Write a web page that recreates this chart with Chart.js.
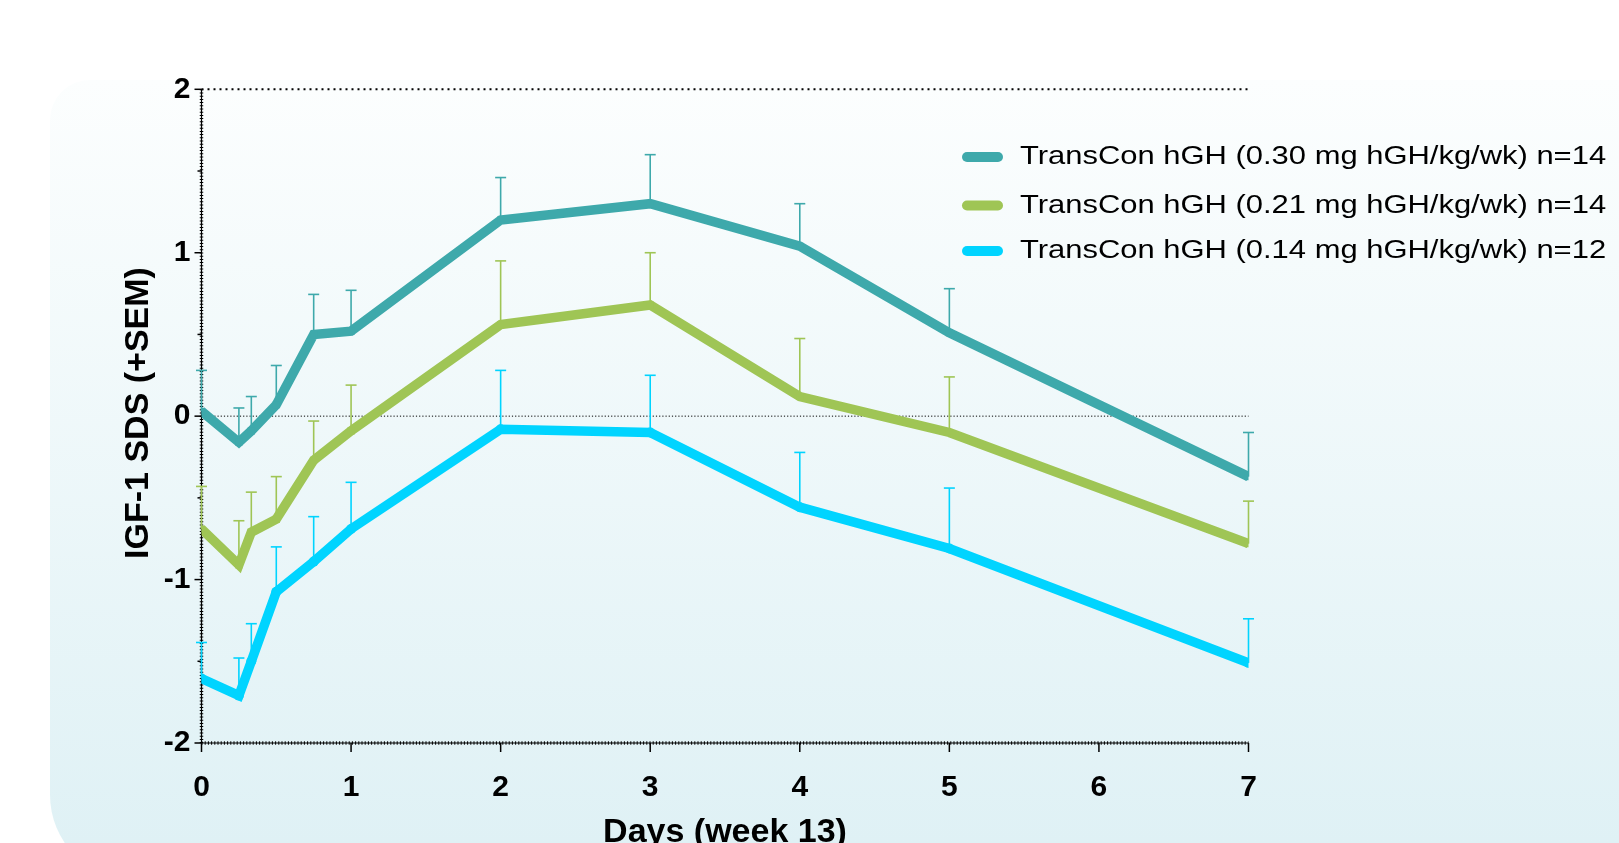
<!DOCTYPE html>
<html><head><meta charset="utf-8">
<script src="https://cdn.jsdelivr.net/npm/chart.js@4.4.1/dist/chart.umd.min.js"></script>
<style>html,body{margin:0;padding:0;background:#fff;overflow:hidden}canvas{display:block}</style>
</head><body><canvas id="c" width="1619" height="843"></canvas>
<script>
// ---- data ----
const days = [0, 0.25, 0.333, 0.5, 0.75, 1, 2, 3, 4, 5, 7];
const seriesLabels = [
  'TransCon hGH (0.30 mg hGH/kg/wk) n=14',
  'TransCon hGH (0.21 mg hGH/kg/wk) n=14',
  'TransCon hGH (0.14 mg hGH/kg/wk) n=12'
];
const mean030 = [0.03, -0.16, -0.09, 0.07, 0.50, 0.52, 1.20, 1.30, 1.04, 0.51, -0.37];
const sem030  = [0.25, 0.21, 0.21, 0.24, 0.245, 0.25, 0.26, 0.30, 0.26, 0.27, 0.27];
const mean021 = [-0.69, -0.91, -0.71, -0.63, -0.27, -0.09, 0.56, 0.68, 0.12, -0.10, -0.78];
const sem021  = [0.26, 0.27, 0.245, 0.26, 0.24, 0.28, 0.39, 0.32, 0.355, 0.34, 0.26];
const mean014 = [-1.605, -1.71, -1.50, -1.075, -0.89, -0.69, -0.08, -0.10, -0.557, -0.81, -1.51];
const sem014  = [0.22, 0.23, 0.23, 0.275, 0.275, 0.285, 0.36, 0.35, 0.335, 0.37, 0.27];
const xTicks = [0, 1, 2, 3, 4, 5, 6, 7];
const yTicks = [-2, -1, 0, 1, 2];
const yMinorTicks = [-1.5, -0.5, 0.5, 1.5];
const xTitle = 'Days (week 13)';
const yTitle = 'IGF-1 SDS (+SEM)';

// ---- styles ----
const FONT = '"Liberation Sans", Arial, Helvetica, sans-serif';
const colors = ['#3EA9AB', '#9FC555', '#00D4FF'];
const means = [mean030, mean021, mean014];
const sems = [sem030, sem021, sem014];
const pointStyles = ['rect', 'rect', 'circle'];

const datasets = means.map((m, i) => ({
  label: seriesLabels[i],
  data: days.map((d, j) => ({x: d, y: m[j]})),
  sem: sems[i],
  borderColor: colors[i],
  backgroundColor: colors[i],
  borderWidth: 9.5,
  pointRadius: 5,
  pointStyle: pointStyles[i],
  pointBorderWidth: 0,
  tension: 0,
  borderJoinStyle: 'miter',
  borderCapStyle: 'butt',
  order: i
}));

const bgPlugin = {
  id: 'bg',
  beforeDraw(chart) {
    const ctx = chart.ctx;
    ctx.save();
    ctx.fillStyle = '#ffffff';
    ctx.fillRect(0, 0, chart.width, chart.height);
    const x0 = 50, y0 = 80, x1 = chart.width + 100, y1 = 880;
    const g = ctx.createLinearGradient(0, y0, 0, 843);
    g.addColorStop(0, '#fcfefe');
    g.addColorStop(1, '#dff1f5');
    ctx.fillStyle = g;
    ctx.beginPath();
    ctx.roundRect(x0, y0, x1 - x0, y1 - y0, [40, 0, 0, 85]);
    ctx.fill();
    ctx.restore();
  }
};

const axesPlugin = {
  id: 'axesDeco',
  beforeDatasetsDraw(chart) {
    const ctx = chart.ctx;
    const xs = chart.scales.x, ys = chart.scales.y;
    const L = xs.getPixelForValue(0), R = xs.getPixelForValue(7);
    const T = ys.getPixelForValue(2), B = ys.getPixelForValue(-2);
    ctx.save();
    ctx.strokeStyle = '#000';
    // top dotted line (y=2)
    ctx.setLineDash([2, 4]);
    ctx.lineWidth = 2;
    ctx.beginPath(); ctx.moveTo(L, T); ctx.lineTo(R, T); ctx.stroke();
    // zero dotted line
    const Z = ys.getPixelForValue(0);
    ctx.setLineDash([1.2, 2]);
    ctx.lineWidth = 1;
    ctx.beginPath(); ctx.moveTo(L, Z); ctx.lineTo(R, Z); ctx.stroke();
    // axis lines (beaded look)
    ctx.setLineDash([]);
    ctx.lineWidth = 1.2;
    ctx.beginPath(); ctx.moveTo(L, T); ctx.lineTo(L, B); ctx.lineTo(R, B); ctx.stroke();
    ctx.setLineDash([1, 2.2]);
    ctx.lineWidth = 3.5;
    ctx.beginPath(); ctx.moveTo(L, T); ctx.lineTo(L, B); ctx.stroke();
    ctx.beginPath(); ctx.moveTo(L, B); ctx.lineTo(R, B); ctx.stroke();
    ctx.setLineDash([]);
    // tick marks
    ctx.lineWidth = 1.5;
    yTicks.forEach(v => {
      const y = ys.getPixelForValue(v);
      ctx.beginPath(); ctx.moveTo(L - 7, y); ctx.lineTo(L, y); ctx.stroke();
    });
    yMinorTicks.forEach(v => {
      const y = ys.getPixelForValue(v);
      ctx.beginPath(); ctx.moveTo(L - 4, y); ctx.lineTo(L, y); ctx.stroke();
    });
    xTicks.forEach(v => {
      const x = xs.getPixelForValue(v);
      ctx.beginPath(); ctx.moveTo(x, B); ctx.lineTo(x, B + 9); ctx.stroke();
    });
    // error bars (upper SEM)
    chart.data.datasets.forEach((ds, i) => {
      ctx.strokeStyle = ds.borderColor;
      ctx.lineWidth = 1.6;
      ds.data.forEach((p, j) => {
        const x = xs.getPixelForValue(p.x);
        const y0 = ys.getPixelForValue(p.y);
        const y1 = ys.getPixelForValue(p.y + ds.sem[j]);
        ctx.beginPath(); ctx.moveTo(x, y0); ctx.lineTo(x, y1); ctx.stroke();
        ctx.beginPath(); ctx.moveTo(x - 5.5, y1); ctx.lineTo(x + 5.5, y1); ctx.stroke();
      });
    });
    ctx.restore();
  }
};

const labelPlugin = {
  id: 'labelsDeco',
  afterDraw(chart) {
    const ctx = chart.ctx;
    ctx.save();
    // legend
    const legY = [157, 205.5, 251];
    chart.data.datasets.forEach((ds, i) => {
      ctx.strokeStyle = ds.borderColor;
      ctx.lineWidth = 10;
      ctx.lineCap = 'round';
      ctx.beginPath(); ctx.moveTo(967, legY[i]); ctx.lineTo(998, legY[i]); ctx.stroke();
      ctx.save();
      ctx.translate(1020, legY[i]);
      ctx.scale(1.19, 1);
      ctx.fillStyle = '#000';
      ctx.font = '26px ' + FONT;
      ctx.textBaseline = 'middle';
      ctx.textAlign = 'left';
      ctx.fillText(ds.label, 0, 0);
      ctx.restore();
    });
    // axis titles
    const xs = chart.scales.x;
    ctx.fillStyle = '#000';
    ctx.font = 'bold 34px ' + FONT;
    ctx.textAlign = 'center';
    ctx.textBaseline = 'alphabetic';
    ctx.fillText(xTitle, (xs.getPixelForValue(0) + xs.getPixelForValue(7)) / 2, 842);
    ctx.save();
    ctx.translate(148, 413);
    ctx.rotate(-Math.PI / 2);
    ctx.fillText(yTitle, 0, 0);
    ctx.restore();
    ctx.restore();
  }
};

new Chart(document.getElementById('c'), {
  type: 'line',
  data: { datasets },
  options: {
    responsive: false,
    animation: false,
    events: [],
    layout: { padding: { top: 89.3, right: 370.5, left: 0, bottom: 0 } },
    plugins: { legend: { display: false }, tooltip: { enabled: false } },
    scales: {
      x: {
        type: 'linear', min: 0, max: 7,
        afterBuildTicks: s => { s.ticks = xTicks.map(v => ({ value: v })); },
        afterFit: s => { s.height = 100; },
        ticks: { font: { family: FONT, size: 30, weight: 'bold' }, color: '#000', padding: 27, maxRotation: 0, autoSkip: false },
        grid: { display: true, drawOnChartArea: false, drawTicks: false, color: 'rgba(0,0,0,0)' },
        border: { display: false }
      },
      y: {
        type: 'linear', min: -2, max: 2,
        afterBuildTicks: s => { s.ticks = yTicks.map(v => ({ value: v })); },
        afterFit: s => { s.width = 201.5; },
        ticks: { font: { family: FONT, size: 30, weight: 'bold' }, color: '#000', padding: 11, autoSkip: false },
        grid: { display: true, drawOnChartArea: false, drawTicks: false, color: 'rgba(0,0,0,0)' },
        border: { display: false }
      }
    }
  },
  plugins: [bgPlugin, axesPlugin, labelPlugin]
});
</script>
</body></html>
